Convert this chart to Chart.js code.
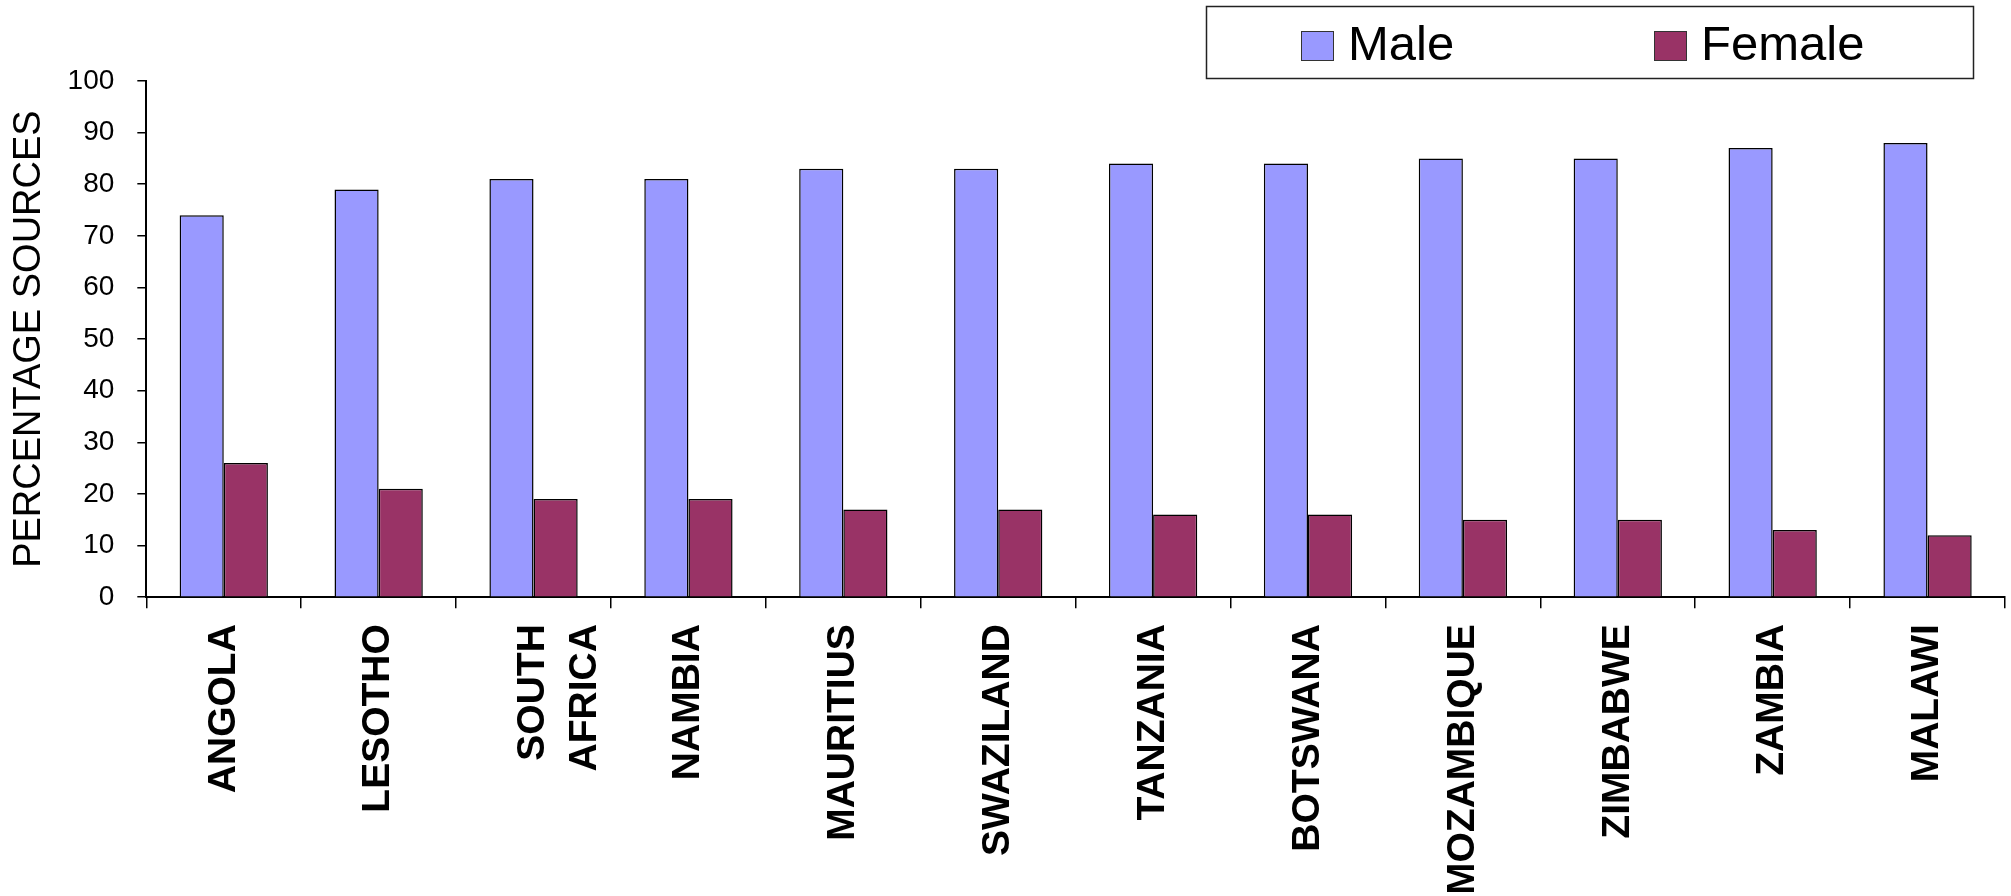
<!DOCTYPE html>
<html>
<head>
<meta charset="utf-8">
<script src="https://cdn.jsdelivr.net/npm/chart.js@4.4.0/dist/chart.umd.min.js"></script>
<style>
  html, body { margin: 0; padding: 0; background: #fff; }
</style>
</head>
<body>
<canvas id="grafico" width="2011" height="896"></canvas>
<script>
var paises = ["ANGOLA", "LESOTHO", ["SOUTH", "AFRICA"], "NAMBIA", "MAURITIUS", "SWAZILAND", "TANZANIA", "BOTSWANA", "MOZAMBIQUE", "ZIMBABWE", "ZAMBIA", "MALAWI"];
var hombres = [74, 79, 81, 81, 83, 83, 84, 84, 85, 85, 87, 88];
var mujeres = [26, 21, 19, 19, 17, 17, 16, 16, 15, 15, 13, 12];
var series = ["Male", "Female"];
var tituloY = "PERCENTAGE SOURCES";

var fuente = '"Liberation Sans", Arial, sans-serif';

// legend with a frame, drawn after the chart (Chart.js legend has no border)
var leyendaCaja = {
  id: 'leyendaCaja',
  afterDraw: function (chart) {
    var ctx = chart.ctx;
    var xs = [1301, 1654];
    ctx.save();
    ctx.strokeStyle = '#222';
    ctx.lineWidth = 1.5;
    ctx.strokeRect(1206.5, 6.5, 767, 72);
    ctx.font = '49px ' + fuente;
    ctx.textBaseline = 'middle';
    chart.data.datasets.forEach(function (ds, i) {
      ctx.fillStyle = ds.backgroundColor;
      ctx.fillRect(xs[i], 31, 32, 29);
      ctx.lineWidth = 1;
      ctx.strokeStyle = '#333';
      ctx.strokeRect(xs[i] + 0.5, 31.5, 32, 29);
      ctx.fillStyle = '#000';
      ctx.fillText(ds.label, xs[i] + 47, 46);
    });
    ctx.restore();
  }
};

var ctx = document.getElementById('grafico').getContext('2d');
var grafico = new Chart(ctx, {
  type: 'bar',
  data: {
    labels: paises,
    datasets: [{
        label: series[0],
        data: hombres,
        backgroundColor: '#9999FF',
        borderColor: '#000',
        borderWidth: 1.5,
        categoryPercentage: 0.57,
        barPercentage: 1.0
      },
      {
        label: series[1],
        data: mujeres,
        backgroundColor: '#993366',
        borderColor: '#000',
        borderWidth: 1.5,
        categoryPercentage: 0.57,
        barPercentage: 1.0
      }
    ]
  },
  options: {
    responsive: false,
    animation: false,
    devicePixelRatio: 1,
    layout: {
      padding: { top: 81, right: 6, bottom: 4, left: 0 }
    },
    plugins: {
      legend: { display: false },
      tooltip: { enabled: false }
    },
    scales: {
      x: {
        afterFit: function (scale) {
          // rotated labels get more room than they need
          scale.height -= 19;
        },
        grid: {
          drawOnChartArea: false,
          color: '#000',
          lineWidth: 1.5,
          tickLength: 11
        },
        border: { color: '#000', width: 2 },
        ticks: {
          autoSkip: false,
          maxRotation: 90,
          minRotation: 90,
          padding: 16,
          color: '#000',
          font: { family: fuente, size: 39, weight: 'bold', lineHeight: 1.32 }
        }
      },
      y: {
        afterFit: function (scale) {
          scale.width -= 8;
        },
        min: 0,
        max: 100,
        grid: {
          drawOnChartArea: false,
          color: '#000',
          lineWidth: 1.5,
          tickLength: 9
        },
        border: { color: '#000', width: 2 },
        ticks: {
          stepSize: 10,
          padding: 23,
          color: '#000',
          font: { family: fuente, size: 28 }
        },
        title: {
          display: true,
          text: tituloY,
          color: '#000',
          padding: { top: 7, bottom: 0 },
          font: { family: fuente, size: 38 }
        }
      }
    }
  },
  plugins: [leyendaCaja]
});
</script>
</body>
</html>
